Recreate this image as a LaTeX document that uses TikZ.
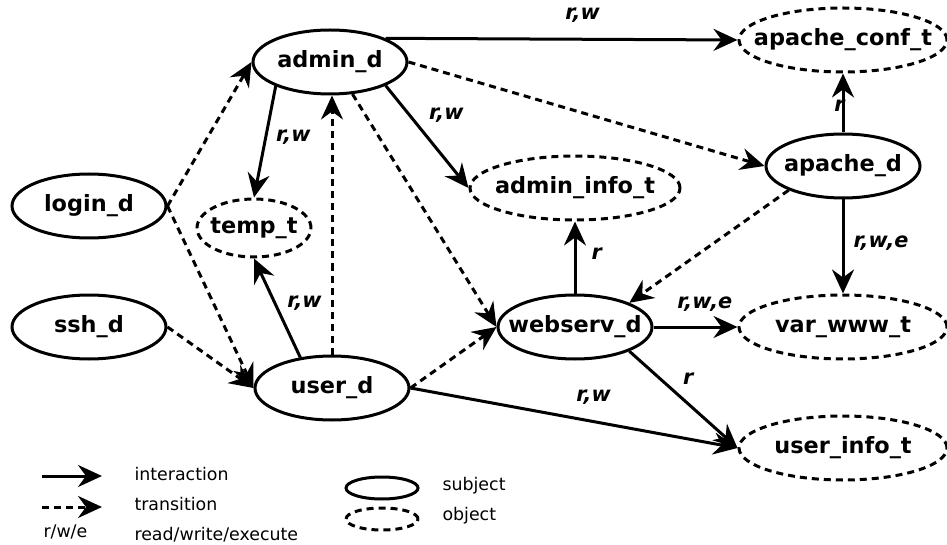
\documentclass[tikz,border=0pt]{standalone}
\usepackage{fontspec}
\setmainfont{DejaVu Sans}
\usetikzlibrary{shapes.geometric, arrows.meta}
\newcommand{\nm}[1]{\makebox[0pt]{#1}}

\begin{document}
\begin{tikzpicture}[
  x=0.5pt, y=-0.5pt,
  line width=1.5pt,
  >={Stealth[length=12pt, width=11pt, inset=4pt]},
  every node/.style={font=\fontsize{11.2}{13}\selectfont\bfseries},
  subj/.style={ellipse, draw, inner sep=0pt, minimum width=77pt,
               minimum height=32pt},
  obj/.style={subj, dash pattern=on 3.5pt off 2.5pt},
  trans/.style={dash pattern=on 3.5pt off 2.5pt},
  lbl/.style={inner sep=0pt, font=\fontsize{10.4}{12}\selectfont\bfseries\itshape},
  legend/.style={inner sep=0pt, anchor=west, font=\fontsize{8.7}{10}\selectfont},
]
  \useasboundingbox (0,0) rectangle (947,545);

  % subjects
  \node[subj] (admin_d) at (330,62) {\nm{admin\_d}};
  \node[subj] (login_d) at (89,206) {\nm{login\_d}};
  \node[subj] (ssh_d) at (89,327) {\nm{ssh\_d}};
  \node[subj] (user_d) at (332,388) {\nm{user\_d}};
  \node[subj] (webserv_d) at (575,327) {\nm{webserv\_d}};
  \node[subj] (apache_d) at (843,166) {\nm{apache\_d}};

  % objects
  \node[obj, minimum width=104pt] (apache_conf_t) at (843,40) {\nm{apache\_conf\_t}};
  \node[obj, minimum width=105pt] (admin_info_t) at (575,188) {\nm{admin\_info\_t}};
  \node[obj, minimum width=57pt, minimum height=29pt] (temp_t) at (254,228) {\nm{temp\_t}};
  \node[obj, minimum width=104pt] (var_www_t) at (843,327) {\nm{var\_www\_t}};
  \node[obj, minimum width=104pt] (user_info_t) at (843,448) {\nm{user\_info\_t}};

  % interactions
  \draw[->] (admin_d.north east) -- node[lbl, pos=0.56, above=7.5pt]{r,w} (apache_conf_t.west);
  \draw[->] (admin_d.204) -- node[lbl, pos=0.46, right=4.5pt]{r,w} (temp_t.north);
  \draw[->] (admin_d.337) -- node[lbl, pos=0.29, right=9pt]{r,w} (admin_info_t.west);
  \draw[->] (user_d.136) -- node[lbl, pos=0.55, right=5.5pt]{r,w} (temp_t.south);
  \draw[->] (user_d.east) -- node[lbl, pos=0.56, above=8pt]{r,w} (user_info_t.west);
  \draw[->] (webserv_d.north) -- node[lbl, pos=0.55, right=7.5pt]{r} (admin_info_t.south);
  \draw[->] (webserv_d.east) -- node[lbl, pos=0.61, above=7pt]{r,w,e} (var_www_t.west);
  \draw[->] (webserv_d.336) -- node[lbl, pos=0.28, right=11pt]{r} (user_info_t.west);
  \draw[->] (apache_d.north) -- node[lbl, pos=0.45, left=-1.5pt]{r} (apache_conf_t.south);
  \draw[->] (apache_d.south) -- node[lbl, pos=0.46, right=4.5pt]{r,w,e} (var_www_t.north);

  % transitions
  \draw[->, trans] (admin_d.east) -- (apache_d.west);
  \draw[->, trans] (admin_d.305) -- (webserv_d.west);
  \draw[->, trans] (login_d.east) -- (admin_d.west);
  \draw[->, trans] (login_d.east) -- (user_d.west);
  \draw[->, trans] (ssh_d.east) -- (user_d.west);
  \draw[->, trans] (user_d.north) -- (user_d.north |- admin_d.south);
  \draw[->, trans] (user_d.east) -- (webserv_d.west);
  \draw[->, trans] (apache_d.204) -- (webserv_d.24);

  % legend
  \coordinate (l1a) at (42,476);
  \coordinate (l1b) at (102,476);
  \coordinate (l2a) at (42,507);
  \coordinate (l2b) at (102,507);
  \draw[->] (l1a) -- (l1b);
  \draw[->, trans] (l2a) -- (l2b);
  \node[legend] (l_int) at (133,474) {interaction};
  \node[legend] (l_trans) at (133,504) {transition};
  \node[legend] (l_rwe) at (42,532) {r/w/e};
  \node[legend] (l_rwe_txt) at (133,535) {read/write/execute};
  \node[subj, minimum width=36pt, minimum height=11pt] (l_subj) at (382,488) {};
  \node[obj, minimum width=36pt, minimum height=11pt] (l_obj) at (382,519) {};
  \node[legend] (l_subj_txt) at (441,486) {subject};
  \node[legend] (l_obj_txt) at (441,516) {object};
\end{tikzpicture}
\end{document}
